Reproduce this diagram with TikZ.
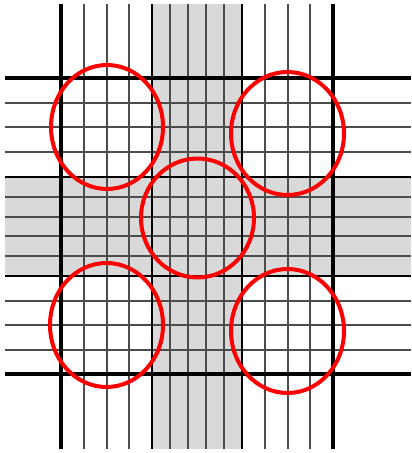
\documentclass[tikz,border=0pt]{standalone}
\definecolor{gridgray}{RGB}{217,217,217}
\definecolor{ringred}{RGB}{255,0,0}
\usepackage{tikz}
\begin{document}
\begin{tikzpicture}[x=0.75pt, y=-0.75pt,
  thinline/.style={black!70, line width=0.9pt},
  bandline/.style={black, line width=1.3pt},
  boldline/.style={black, line width=3pt},
  ring/.style={ringred, line width=3pt}]
\useasboundingbox (0,0) rectangle (411,453);
% Shaded bands
\fill[gridgray] (152,4) rectangle (242,449);
\fill[gridgray] (5,177) rectangle (411,276);
% Thin grid lines
\foreach \x in {84,107,129,170,188,206,224,265,288,310}
  \draw[thinline] (\x,4) -- (\x,449);
\foreach \y in {103,127,152,197,217,236,256,301,325,350}
  \draw[thinline] (5,\y) -- (411,\y);
% Band edges
\foreach \x in {152,242}
  \draw[bandline] (\x,4) -- (\x,449);
\foreach \y in {177,276}
  \draw[bandline] (5,\y) -- (411,\y);
% Bold lines
\foreach \x in {61,333}
  \draw[boldline] (\x,4) -- (\x,449);
\foreach \y in {78,374}
  \draw[boldline] (5,\y) -- (411,\y);
% Red rings
\draw[ring] (107,127) ellipse (56 and 62);
\draw[ring] (287.5,133.5) ellipse (56.5 and 61.5);
\draw[ring] (106.5,325) ellipse (56.5 and 62);
\draw[ring] (287.5,331) ellipse (56.5 and 62);
\draw[ring] (197.5,218) ellipse (56.5 and 59.5);
\end{tikzpicture}
\end{document}
